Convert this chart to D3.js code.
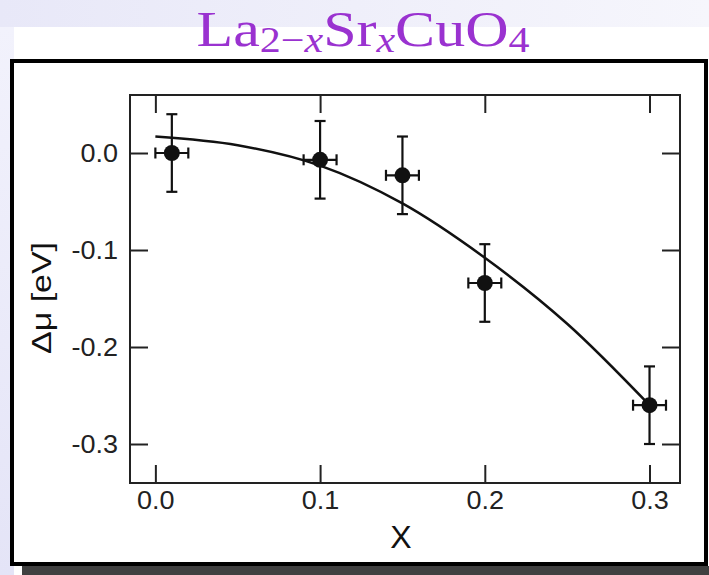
<!DOCTYPE html>
<html>
<head>
<meta charset="utf-8">
<script src="https://cdn.jsdelivr.net/npm/d3@7"></script>
<style>
  html, body { margin: 0; padding: 0; background: #ffffff; }
  svg { display: block; }
</style>
</head>
<body>
<svg id="chart" width="709" height="575"></svg>
<script>
// Measured doping levels and chemical-potential shifts
const dopingX = [0.01, 0.10, 0.15, 0.20, 0.30];
const deltaMu = [0.000, -0.007, -0.023, -0.134, -0.260];
const xError = [0.01, 0.01, 0.01, 0.01, 0.01];
const yError = [0.04, 0.04, 0.04, 0.04, 0.04];

// Guide curve through the data
const curveX = [0.00, 0.05, 0.10, 0.15, 0.20, 0.25, 0.30];
const curveY = [0.017, 0.008, -0.013, -0.052, -0.108, -0.176, -0.260];

// Axis ticks
const xTicks = [0.0, 0.1, 0.2, 0.3];
const yTicks = [0.0, -0.1, -0.2, -0.3];

const svg = d3.select("#chart");
const W = 709, H = 575;

// Slide background
const defs = svg.append("defs");
const gTop = defs.append("linearGradient").attr("id", "bgTop").attr("x1", 0).attr("x2", 1).attr("y1", 0).attr("y2", 0);
gTop.append("stop").attr("offset", 0).attr("stop-color", "#e8e8f8");
gTop.append("stop").attr("offset", 1).attr("stop-color", "#f6f6fc");
const gLeft = defs.append("linearGradient").attr("id", "bgLeft").attr("x1", 0).attr("x2", 0).attr("y1", 0).attr("y2", 1);
gLeft.append("stop").attr("offset", 0).attr("stop-color", "#f2f2fc");
gLeft.append("stop").attr("offset", 1).attr("stop-color", "#e4e4f7");

svg.append("rect").attr("x", 0).attr("y", 0).attr("width", W).attr("height", H).attr("fill", "#ffffff");
svg.append("rect").attr("x", 0).attr("y", 0).attr("width", W).attr("height", 27).attr("fill", "url(#bgTop)");
svg.append("rect").attr("x", 0).attr("y", 27).attr("width", 14).attr("height", H - 27).attr("fill", "url(#bgLeft)");

// Title (chemical formula with subscripts)
const title = svg.append("g").attr("transform", "translate(363,0) scale(1.2,1)")
  .append("text")
  .attr("x", 0).attr("y", 46)
  .attr("text-anchor", "middle")
  .attr("font-family", "'Liberation Serif', 'DejaVu Serif', serif")
  .attr("font-size", 50)
  .attr("fill", "#9a32d0");
title.append("tspan").text("La");
title.append("tspan").attr("font-size", 35).attr("dy", 6).text("2\u2212");
title.append("tspan").attr("font-size", 35).attr("font-style", "italic").text("x");
title.append("tspan").attr("dy", -6).text("Sr");
title.append("tspan").attr("font-size", 35).attr("font-style", "italic").attr("dy", 6).text("x");
title.append("tspan").attr("dy", -6).text("CuO");
title.append("tspan").attr("font-size", 35).attr("dy", 6).text("4");

// Panel shadow and frame
svg.append("rect").attr("x", 22).attr("y", 566).attr("width", W - 22).attr("height", 9).attr("fill", "#404040");
svg.append("rect").attr("x", 12).attr("y", 61).attr("width", 694).attr("height", 503)
  .attr("fill", "#ffffff").attr("stroke", "#000000").attr("stroke-width", 4);

// Plot area
const plotL = 130, plotR = 680, plotT = 95, plotB = 483;
const x = d3.scaleLinear().domain([-0.0154, 0.3185]).range([plotL, plotR]);
const y = d3.scaleLinear().domain([0.0598, -0.3402]).range([plotT, plotB]);

const fontSans = "'Liberation Sans', Arial, Helvetica, sans-serif";
const tickLen = 18;

function styleAxis(g) {
  g.select(".domain").remove();
  g.selectAll(".tick line").attr("stroke", "#222").attr("stroke-width", 2);
  g.selectAll(".tick text").attr("fill", "#222").attr("font-family", fontSans).attr("font-size", 25)
    .each(function () {
      const len = this.getComputedTextLength();
      if (len > 0) d3.select(this).attr("textLength", len * 1.08).attr("lengthAdjust", "spacingAndGlyphs");
    });
}

svg.append("g").attr("transform", `translate(0,${plotB})`)
  .call(d3.axisBottom(x).tickValues(xTicks).tickFormat(d3.format(".1f")).tickSizeInner(-tickLen).tickSizeOuter(0).tickPadding(8))
  .call(styleAxis);
svg.append("g").attr("transform", `translate(0,${plotT})`)
  .call(d3.axisTop(x).tickValues(xTicks).tickFormat("").tickSizeInner(-tickLen).tickSizeOuter(0))
  .call(styleAxis);
svg.append("g").attr("transform", `translate(${plotL},0)`)
  .call(d3.axisLeft(y).tickValues(yTicks).tickFormat(d => d3.format(".1f")(d).replace("\u2212", "-")).tickSizeInner(-tickLen).tickSizeOuter(0).tickPadding(12))
  .call(styleAxis);
svg.append("g").attr("transform", `translate(${plotR},0)`)
  .call(d3.axisRight(y).tickValues(yTicks).tickFormat("").tickSizeInner(-tickLen).tickSizeOuter(0))
  .call(styleAxis);

svg.append("rect").attr("x", plotL).attr("y", plotT).attr("width", plotR - plotL).attr("height", plotB - plotT)
  .attr("fill", "none").attr("stroke", "#222").attr("stroke-width", 2);

// Axis titles
svg.append("text").attr("x", 401).attr("y", 548).attr("text-anchor", "middle")
  .attr("font-family", fontSans).attr("font-size", 32).attr("fill", "#111").text("X");
svg.append("text").attr("transform", `translate(51,${298}) rotate(-90)`).attr("text-anchor", "middle")
  .attr("font-family", fontSans).attr("font-size", 28).attr("fill", "#111")
  .attr("textLength", 112).attr("lengthAdjust", "spacingAndGlyphs")
  .text("\u0394\u03bc [eV]");

// Guide curve
const curvePts = curveX.map((v, i) => [v, curveY[i]]);
svg.append("path").datum(curvePts)
  .attr("fill", "none").attr("stroke", "#111").attr("stroke-width", 2.5)
  .attr("d", d3.line().x(d => x(d[0])).y(d => y(d[1])).curve(d3.curveCatmullRom.alpha(0.5)));

// Error bars and markers
const pts = dopingX.map((v, i) => ({ x: v, y: deltaMu[i], ex: xError[i], ey: yError[i] }));
const cap = 5.5;
const eb = svg.append("g").attr("stroke", "#111").attr("stroke-width", 2.2);
pts.forEach(p => {
  const cx = x(p.x), cy = y(p.y);
  const y1 = y(p.y + p.ey), y2 = y(p.y - p.ey);
  const x1 = x(p.x - p.ex), x2 = x(p.x + p.ex);
  eb.append("line").attr("x1", cx).attr("x2", cx).attr("y1", y1).attr("y2", y2);
  eb.append("line").attr("x1", cx - cap).attr("x2", cx + cap).attr("y1", y1).attr("y2", y1);
  eb.append("line").attr("x1", cx - cap).attr("x2", cx + cap).attr("y1", y2).attr("y2", y2);
  eb.append("line").attr("x1", x1).attr("x2", x2).attr("y1", cy).attr("y2", cy);
  eb.append("line").attr("x1", x1).attr("x2", x1).attr("y1", cy - cap).attr("y2", cy + cap);
  eb.append("line").attr("x1", x2).attr("x2", x2).attr("y1", cy - cap).attr("y2", cy + cap);
});
svg.append("g").selectAll("circle").data(pts).join("circle")
  .attr("cx", d => x(d.x)).attr("cy", d => y(d.y)).attr("r", 8)
  .attr("fill", "#111");
</script>
</body>
</html>
